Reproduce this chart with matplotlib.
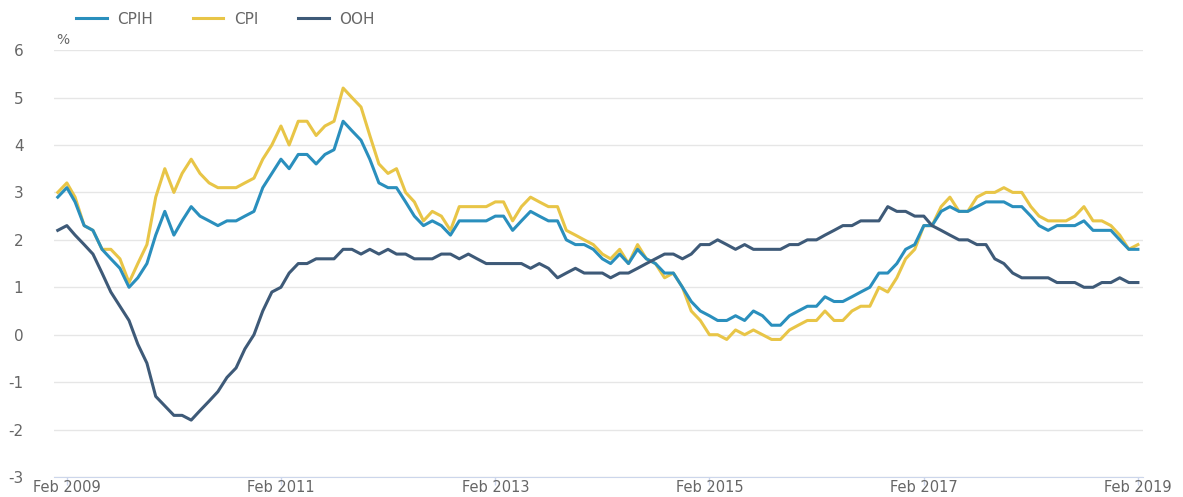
import pandas as pd
import matplotlib
matplotlib.use("Agg")
import matplotlib.pyplot as plt
import matplotlib.dates as mdates

# monthly annual rates, Jan 2009 - Feb 2019
months = pd.date_range("2009-01-01", periods=122, freq="MS")

cpih = [2.9, 3.1, 2.8, 2.3, 2.2, 1.8, 1.6, 1.4, 1.0, 1.2, 1.5, 2.1,
        2.6, 2.1, 2.4, 2.7, 2.5, 2.4, 2.3, 2.4, 2.4, 2.5, 2.6, 3.1,
        3.4, 3.7, 3.5, 3.8, 3.8, 3.6, 3.8, 3.9, 4.5, 4.3, 4.1, 3.7,
        3.2, 3.1, 3.1, 2.8, 2.5, 2.3, 2.4, 2.3, 2.1, 2.4, 2.4, 2.4,
        2.4, 2.5, 2.5, 2.2, 2.4, 2.6, 2.5, 2.4, 2.4, 2.0, 1.9, 1.9,
        1.8, 1.6, 1.5, 1.7, 1.5, 1.8, 1.6, 1.5, 1.3, 1.3, 1.0, 0.7,
        0.5, 0.4, 0.3, 0.3, 0.4, 0.3, 0.5, 0.4, 0.2, 0.2, 0.4, 0.5,
        0.6, 0.6, 0.8, 0.7, 0.7, 0.8, 0.9, 1.0, 1.3, 1.3, 1.5, 1.8,
        1.9, 2.3, 2.3, 2.6, 2.7, 2.6, 2.6, 2.7, 2.8, 2.8, 2.8, 2.7,
        2.7, 2.5, 2.3, 2.2, 2.3, 2.3, 2.3, 2.4, 2.2, 2.2, 2.2, 2.0,
        1.8, 1.8]

cpi = [3.0, 3.2, 2.9, 2.3, 2.2, 1.8, 1.8, 1.6, 1.1, 1.5, 1.9, 2.9,
       3.5, 3.0, 3.4, 3.7, 3.4, 3.2, 3.1, 3.1, 3.1, 3.2, 3.3, 3.7,
       4.0, 4.4, 4.0, 4.5, 4.5, 4.2, 4.4, 4.5, 5.2, 5.0, 4.8, 4.2,
       3.6, 3.4, 3.5, 3.0, 2.8, 2.4, 2.6, 2.5, 2.2, 2.7, 2.7, 2.7,
       2.7, 2.8, 2.8, 2.4, 2.7, 2.9, 2.8, 2.7, 2.7, 2.2, 2.1, 2.0,
       1.9, 1.7, 1.6, 1.8, 1.5, 1.9, 1.6, 1.5, 1.2, 1.3, 1.0, 0.5,
       0.3, 0.0, 0.0, -0.1, 0.1, 0.0, 0.1, 0.0, -0.1, -0.1, 0.1, 0.2,
       0.3, 0.3, 0.5, 0.3, 0.3, 0.5, 0.6, 0.6, 1.0, 0.9, 1.2, 1.6,
       1.8, 2.3, 2.3, 2.7, 2.9, 2.6, 2.6, 2.9, 3.0, 3.0, 3.1, 3.0,
       3.0, 2.7, 2.5, 2.4, 2.4, 2.4, 2.5, 2.7, 2.4, 2.4, 2.3, 2.1,
       1.8, 1.9]

ooh = [2.2, 2.3, 2.1, 1.9, 1.7, 1.3, 0.9, 0.6, 0.3, -0.2, -0.6, -1.3,
       -1.5, -1.7, -1.7, -1.8, -1.6, -1.4, -1.2, -0.9, -0.7, -0.3, 0.0, 0.5,
       0.9, 1.0, 1.3, 1.5, 1.5, 1.6, 1.6, 1.6, 1.8, 1.8, 1.7, 1.8,
       1.7, 1.8, 1.7, 1.7, 1.6, 1.6, 1.6, 1.7, 1.7, 1.6, 1.7, 1.6,
       1.5, 1.5, 1.5, 1.5, 1.5, 1.4, 1.5, 1.4, 1.2, 1.3, 1.4, 1.3,
       1.3, 1.3, 1.2, 1.3, 1.3, 1.4, 1.5, 1.6, 1.7, 1.7, 1.6, 1.7,
       1.9, 1.9, 2.0, 1.9, 1.8, 1.9, 1.8, 1.8, 1.8, 1.8, 1.9, 1.9,
       2.0, 2.0, 2.1, 2.2, 2.3, 2.3, 2.4, 2.4, 2.4, 2.7, 2.6, 2.6,
       2.5, 2.5, 2.3, 2.2, 2.1, 2.0, 2.0, 1.9, 1.9, 1.6, 1.5, 1.3,
       1.2, 1.2, 1.2, 1.2, 1.1, 1.1, 1.1, 1.0, 1.0, 1.1, 1.1, 1.2,
       1.1, 1.1]

tick_dates = pd.date_range("2009-02-01", "2019-02-01", freq="24MS")
y_ticks = list(range(-3, 7))

plt.rcParams["font.family"] = ["DejaVu Sans"]
plt.rcParams["axes.unicode_minus"] = False
label_grey = "#666666"

fig = plt.figure(figsize=(11.83, 4.97), dpi=100)
ax = fig.add_axes([0.0456, 0.0402, 0.9205, 0.859])

ax.plot(months, cpih, color="#2a8fbd", lw=2.2, label="CPIH", zorder=3)
ax.plot(months, cpi, color="#e8c547", lw=2.2, label="CPI", zorder=2)
ax.plot(months, ooh, color="#3e5a78", lw=2.2, label="OOH", zorder=4)

ax.set_xlim(months[0] - pd.Timedelta(days=13), months[-1] + pd.Timedelta(days=17))
ax.set_ylim(-3, 6)

ax.set_yticks(y_ticks)
ax.yaxis.grid(True, color="#e6e6e6", lw=1)
ax.set_axisbelow(True)
ax.tick_params(axis="y", length=0, pad=22, labelsize=11, labelcolor=label_grey)

ax.set_xticks(tick_dates)
ax.xaxis.set_major_formatter(mdates.DateFormatter("%b %Y"))
ax.tick_params(axis="x", length=6, width=1, color="#ccd6eb", pad=-4,
               labelsize=10.5, labelcolor=label_grey)

for side in ["top", "right", "left"]:
    ax.spines[side].set_visible(False)
ax.spines["bottom"].set_color("#ccd6eb")

ax.text(0.002, 1.008, "%", transform=ax.transAxes, fontsize=10,
        color=label_grey, va="bottom", ha="left")

fig.legend(loc="center left", bbox_to_anchor=(76 / 1183, 1 - 19 / 497),
           ncol=3, frameon=False, fontsize=11, handlelength=2.0,
           handletextpad=0.7, columnspacing=2.6, borderpad=0,
           borderaxespad=0, labelcolor=label_grey)

fig.savefig("out.png", dpi=100)
